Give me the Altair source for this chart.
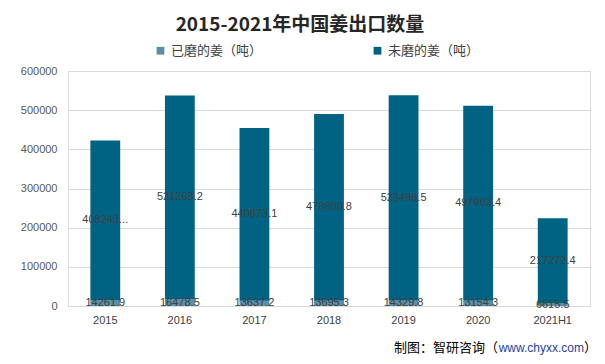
import altair as alt
import pandas as pd

years = ["2015", "2016", "2017", "2018", "2019", "2020", "2021H1"]
ground = [14261.9, 16478.5, 13637.2, 13695.3, 14329.8, 13154.3, 6615.5]
unground = [408243.3, 521263.2, 440873.1, 476800.8, 523496.5, 497963.4, 217272.4]
ground_labels = ["14261.9", "16478.5", "13637.2", "13695.3", "14329.8", "13154.3", "6615.5"]
unground_labels = ["408243...", "521263.2", "440873.1", "476800.8", "523496.5", "497963.4", "217272.4"]
series = ["已磨的姜（吨）", "未磨的姜（吨）"]
colors = ["#5b8fa8", "#006384"]

rows = []
for i, y in enumerate(years):
    rows.append({"year": y, "series": series[0], "value": ground[i], "order": 0,
                 "mid": ground[i] / 2, "label": ground_labels[i]})
    rows.append({"year": y, "series": series[1], "value": unground[i], "order": 1,
                 "mid": ground[i] + unground[i] / 2, "label": unground_labels[i]})
df = pd.DataFrame(rows)

W, H = 522, 235

xaxis = alt.Axis(labelAngle=0, labelFontSize=11, labelColor="#404040",
                 labelFont="Liberation Sans", ticks=False, domainColor="#d9d9d9",
                 labelPadding=8)
yaxis = alt.Axis(values=[0, 100000, 200000, 300000, 400000, 500000, 600000],
                 format="d", labelFontSize=11, labelColor="#595959",
                 labelFont="Liberation Sans", ticks=False, domain=False,
                 gridColor="#d9d9d9", labelPadding=11, labelOverlap=False)
xscale = alt.Scale(paddingInner=0.6, paddingOuter=0.3)
yscale = alt.Scale(domain=[0, 600000], nice=False)

bars = alt.Chart(df).mark_bar().encode(
    x=alt.X("year:N", sort=years, title=None, scale=xscale, axis=xaxis),
    y=alt.Y("value:Q", stack="zero", title=None, scale=yscale, axis=yaxis),
    color=alt.Color("series:N", sort=series,
                    scale=alt.Scale(domain=series, range=colors),
                    legend=alt.Legend(title=None, orient="none", direction="horizontal",
                                      legendX=86, legendY=-27, symbolType="square",
                                      symbolSize=60, labelFontSize=13, labelColor="#404040",
                                      labelFont="Noto Sans CJK SC", columnPadding=108,
                                      symbolStrokeWidth=0)),
    order=alt.Order("order:Q"),
)

labels = alt.Chart(df).mark_text(fontSize=11, color="#404040", font="Liberation Sans").encode(
    x=alt.X("year:N", sort=years, title=None, scale=xscale, axis=xaxis),
    y=alt.Y("mid:Q", title=None, scale=yscale, axis=yaxis),
    text="label:N",
)

src1 = alt.Chart(pd.DataFrame({"t": ["制图：智研咨询（"]})).mark_text(
    align="right", baseline="middle", fontSize=13, color="#000000", font="Noto Sans CJK SC"
).encode(x=alt.value(430), y=alt.value(277), text="t:N")
src2 = alt.Chart(pd.DataFrame({"t": ["www.chyxx.com"]})).mark_text(
    align="right", baseline="middle", fontSize=12, color="#1f3f9f", font="Liberation Sans"
).encode(x=alt.value(516), y=alt.value(277), text="t:N")
src3 = alt.Chart(pd.DataFrame({"t": ["）"]})).mark_text(
    align="right", baseline="middle", fontSize=13, color="#000000", font="Noto Sans CJK SC"
).encode(x=alt.value(529), y=alt.value(277), text="t:N")

chart = alt.layer(bars, labels, src1, src2, src3).properties(
    width=W, height=H,
    title=alt.Title("2015-2021年中国姜出口数量", fontSize=19, font="Noto Sans CJK SC",
                    fontWeight="bold", color="#262626", anchor="middle", dx=-29, offset=9),
    autosize=alt.AutoSizeParams(type="none"),
    padding={"left": 60, "top": 63, "right": 7, "bottom": 50},
).configure_view(stroke=None).configure(background="white")

chart.save("out.html", embed_options={"renderer": "svg", "actions": False})
